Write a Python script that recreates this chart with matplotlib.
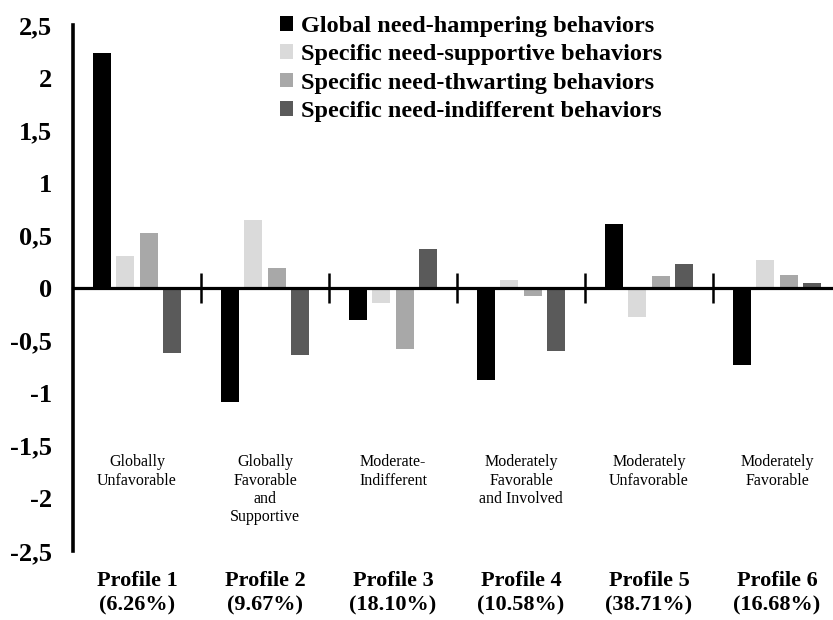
import numpy as np
import matplotlib
matplotlib.use('Agg')
import matplotlib.pyplot as plt
from matplotlib.ticker import FixedLocator, FuncFormatter

plt.rcParams['font.family'] = ['Liberation Serif', 'DejaVu Serif']

# données
profiles = ['Profile 1\n(6.26%)', 'Profile 2\n(9.67%)', 'Profile 3\n(18.10%)',
            'Profile 4\n(10.58%)', 'Profile 5\n(38.71%)', 'Profile 6\n(16.68%)']
descriptions = ['Globally\nUnfavorable', 'Globally\nFavorable\nand\nSupportive',
                'Moderate-\nIndifferent', 'Moderately\nFavorable\nand Involved',
                'Moderately\nUnfavorable', 'Moderately\nFavorable']
series = ['Global need-hampering behaviors', 'Specific need-supportive behaviors',
          'Specific need-thwarting behaviors', 'Specific need-indifferent behaviors']
global_hamp = [2.23, -1.08, -0.30, -0.87, 0.61, -0.73]
spec_support = [0.30, 0.65, -0.14, 0.08, -0.28, 0.27]
spec_thwart = [0.52, 0.19, -0.58, -0.08, 0.11, 0.12]
spec_indiff = [-0.62, -0.64, 0.37, -0.60, 0.23, 0.05]
colors = ['#000000', '#dadada', '#a8a8a8', '#5a5a5a']
yticks = [-2.5, -2, -1.5, -1, -0.5, 0, 0.5, 1, 1.5, 2, 2.5]

fig = plt.figure(figsize=(8.33, 6.2), dpi=100)
ax = fig.add_axes([73 / 833, 1 - 551 / 620, 768 / 833, 526 / 620])

x = np.arange(len(profiles))
step, w = 0.182, 0.14
for i, (vals, lab, c) in enumerate(zip([global_hamp, spec_support, spec_thwart, spec_indiff],
                                        series, colors)):
    ax.bar(x + (i - 1.5) * step, vals, w, color=c, label=lab, zorder=2)

ax.set_xlim(-0.5, 5.5)
ax.set_ylim(-2.5, 2.5)

# axes
for s in ['top', 'right']:
    ax.spines[s].set_visible(False)
ax.spines['bottom'].set_position(('data', 0))
ax.spines['bottom'].set_linewidth(2.3)
ax.spines['bottom'].set_zorder(3)
ax.spines['left'].set_linewidth(2.6)

ax.yaxis.set_major_locator(FixedLocator(yticks))
ax.yaxis.set_major_formatter(FuncFormatter(lambda v, p: f'{v:g}'.replace('.', ',')))
ax.tick_params(axis='y', length=0, pad=15, labelsize=19)
for t in ax.get_yticklabels():
    t.set_fontweight('bold')

ax.xaxis.set_major_locator(FixedLocator([0.5, 1.5, 2.5, 3.5, 4.5]))
ax.tick_params(axis='x', direction='inout', length=21, width=1.8, labelbottom=False)

# libellés des profils
for xi, d, p in zip(x, descriptions, profiles):
    ax.text(xi, -1.58, d, ha='center', va='top', fontsize=11.5, linespacing=1.2)
    ax.text(xi, -2.69, p, ha='center', va='top', fontsize=16, fontweight='bold',
            linespacing=1.3, clip_on=False)

leg = ax.legend(loc='upper left', bbox_to_anchor=(280 / 833, 1 - 16 / 620),
                bbox_transform=fig.transFigure, frameon=False,
                prop={'weight': 'bold', 'size': 17.5}, handlelength=0.55, handleheight=0.55,
                handletextpad=0.3, labelspacing=0.3, borderaxespad=0, borderpad=0)

fig.savefig('out.png', dpi=100)
